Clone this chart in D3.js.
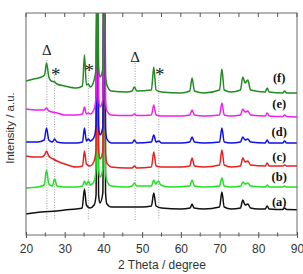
<!DOCTYPE html>
<html><head><meta charset="utf-8">
<script src="https://cdn.jsdelivr.net/npm/d3@7"></script>
<style>body{margin:0;background:#fff}svg{display:block}</style>
</head><body>
<script>
// ---- data (2θ in degrees, intensity in a.u., stacked) ----
const xTicks = [20, 30, 40, 50, 60, 70, 80, 90];
const minorTicks = [25, 35, 45, 55, 65, 75, 85];
const seriesLabels = ["(a)", "(b)", "(c)", "(d)", "(e)", "(f)"];
const labelValues = [33, 58, 78, 103, 131, 157];

const seriesA = [[20,21],[24,23],[28,24],[30,25],[33,26],[34.5,27],[35.1,46],[35.6,30],[36.5,27],[37.6,30],[38.1,40],[38.4,320],[38.75,40],[39.1,32],[39.85,42],[40.2,320],[40.55,42],[40.9,31],[42,28],[46,28],[50,28],[52.4,29],[53.0,42],[53.6,29],[55,27],[60,26],[62.4,27],[62.9,31],[63.4,27],[66,26],[70.0,28],[70.6,43],[71.2,28],[73,26],[75.4,27],[76.0,35],[76.6,30],[77.3,31],[78,27],[80,26],[81.8,26],[82.3,29],[82.8,26],[86.3,25.5],[86.8,27],[87.3,25.5],[90,25.3]];
const seriesB = [[20,47],[23,48],[24.7,50],[25.3,65],[25.9,51],[26.8,49],[27.4,56],[28,49],[30,48],[33,48],[34.6,49],[35.1,54],[35.6,50],[36.1,54],[36.6,50],[37.6,54],[38.1,66],[38.4,320],[38.75,66],[39.1,58],[39.85,66],[40.2,320],[40.55,64],[40.9,54],[42,49],[46,48],[47.4,49],[48,52],[48.6,49],[52.4,49],[53.0,55],[53.5,51],[54.2,54],[54.8,50],[57,48],[62.3,49],[62.9,55],[63.5,49],[66,48],[70.0,49],[70.6,57],[71.2,49],[73,48],[75.5,49],[76.0,53],[76.6,51],[77.3,52],[78,49],[81.8,48],[82.3,50],[82.8,48],[86.3,48],[86.8,49],[87.3,48],[90,48]];
const seriesC = [[20,79],[22,78],[24,78],[24.8,80],[25.3,84],[25.9,79],[27,76],[28,74],[30,71],[33,68],[34.6,69],[35.1,84],[35.6,71],[36.5,69],[37.6,74],[38.1,86],[38.4,320],[38.75,86],[39.1,76],[39.85,84],[40.2,320],[40.55,82],[40.9,72],[42,68],[46,67],[47.4,67],[48,69],[48.6,67],[52.4,68],[53.0,83],[53.6,69],[55,68],[60,68],[62.3,69],[62.9,77],[63.5,69],[66,68],[70.0,70],[70.6,85],[71.2,70],[73,68],[75.4,69],[76.0,77],[76.6,73],[77.3,74],[78,70],[81.8,69],[82.3,72],[82.8,69],[86.3,69],[86.8,70],[87.3,69],[90,69]];
const seriesD = [[20,93],[23,93],[24.7,95],[25.3,107],[25.9,95],[26.8,93],[27.4,96],[28,93],[30,92],[33,92],[34.6,93],[35.1,107],[35.6,94],[36.1,96],[36.6,94],[37.6,98],[38.1,110],[38.4,320],[38.75,110],[39.1,100],[39.85,108],[40.2,320],[40.55,106],[40.9,96],[42,92],[46,92],[47.4,92],[48,95],[48.6,92],[52.4,93],[53.0,100],[53.6,93],[54.3,94],[55,92],[60,92],[62.3,93],[62.9,98],[63.5,93],[66,92],[70.0,93],[70.6,107],[71.2,93],[73,92],[75.4,93],[76.0,98],[76.6,95],[77.3,96],[78,93],[81.8,92],[82.3,95],[82.8,92],[86.3,92],[86.8,94],[87.3,92],[90,92]];
const seriesE = [[20,126],[23,125],[24.7,125],[25.3,127],[25.9,124],[28,122],[30,120],[33,120],[34.6,121],[35.1,128],[35.6,121],[36.1,122],[36.6,121],[37.6,126],[38.1,138],[38.4,320],[38.75,138],[39.1,128],[39.85,136],[40.2,320],[40.55,134],[40.9,124],[42,120],[46,119.5],[47.4,119.5],[48,121],[48.6,119.5],[52.4,120],[53.0,130],[53.6,120],[55,119],[60,119],[62.3,120],[62.9,125],[63.5,120],[66,119],[70.0,120],[70.6,132],[71.2,120],[73,119],[75.4,120],[76.0,126],[76.6,123],[77.3,124],[78,120],[81.8,119],[82.3,122],[82.8,119],[86.3,118.5],[86.8,120],[87.3,118.5],[90,118]];
const seriesF = [[20,154],[22,156],[24,158],[24.8,160],[25.3,172],[25.9,158],[26.5,154],[27.4,153],[28,151],[30,149],[33,147],[34.6,149],[35.1,180],[35.6,150],[36.1,151],[36.6,148],[37.6,155],[38.1,167],[38.4,320],[38.75,168],[39.1,158],[39.85,166],[40.2,320],[40.55,160],[40.9,150],[42,144],[46,143],[47.4,144],[48,148],[48.6,144],[52.4,145],[53.0,168],[53.6,145],[55,143],[60,142],[62.3,144],[62.9,157],[63.5,144],[66,142],[70.0,145],[70.6,166],[71.2,145],[73,143],[75.4,145],[76.0,158],[76.6,152],[77.3,155],[78,145],[81.8,143],[82.3,147],[82.8,143],[86.3,142],[86.8,144],[87.3,142],[90,142]];

const seriesList = [seriesA, seriesB, seriesC, seriesD, seriesE, seriesF];
const seriesColors = ["#111111", "#22e022", "#e8201e", "#1010e0", "#f020f0", "#228b22"];

// reference marks: Δ anatase, * rutile
const markPositions = [25.4, 27.4, 36.1, 48.2, 54.3];
const markSymbols = ["Δ", "*", "*", "Δ", "*"];
const markValues = [185, 168, 172, 178, 168];
const markLineTops = [175, 163, 165, 172, 163];
const markLineBottom = 15;

// ---- layout ----
const W = 303, H = 274;
const m = {left: 26, right: 6, top: 13, bottom: 39};
const iw = W - m.left - m.right, ih = H - m.top - m.bottom;

const svg = d3.select("body").append("svg").attr("width", W).attr("height", H);
const x = d3.scaleLinear().domain([20, 90]).range([m.left, m.left + iw]);
const y = d3.scaleLinear().domain([0, 222]).range([m.top + ih, m.top]);

svg.append("defs").append("clipPath").attr("id", "clip")
  .append("rect").attr("x", m.left).attr("y", m.top).attr("width", iw).attr("height", ih);

// dotted reference lines
svg.append("g").selectAll("line").data(markPositions).join("line")
  .attr("x1", d => x(d)).attr("x2", d => x(d))
  .attr("y1", (d, i) => y(markLineTops[i])).attr("y2", y(markLineBottom))
  .attr("stroke", "#9a9a9a").attr("stroke-width", 1).attr("stroke-dasharray", "1,1.6");

const line = d3.line().x(d => x(d[0])).y(d => y(d[1])).curve(d3.curveMonotoneX);
const g = svg.append("g").attr("clip-path", "url(#clip)");
seriesList.forEach((s, i) => {
  g.append("path").attr("d", line(s)).attr("fill", "none")
    .attr("stroke", seriesColors[i]).attr("stroke-width", 1.5).attr("stroke-linejoin", "round");
});

// frame
svg.append("rect").attr("x", m.left).attr("y", m.top).attr("width", iw).attr("height", ih)
  .attr("fill", "none").attr("stroke", "#6a6a6a").attr("stroke-width", 1);

// bottom axis
const axB = svg.append("g").attr("transform", `translate(0,${m.top + ih})`)
  .call(d3.axisBottom(x).tickValues(xTicks).tickSize(3).tickPadding(6).tickFormat(d3.format("d")));
axB.select(".domain").remove();
axB.selectAll(".tick line").attr("y1", -3).attr("y2", 3).attr("stroke", "#555");
axB.selectAll("text").attr("font-family", "Arial, 'Liberation Sans', sans-serif").attr("font-size", 12).attr("fill", "#333");
svg.append("g").selectAll("line").data(minorTicks).join("line")
  .attr("x1", d => x(d)).attr("x2", d => x(d)).attr("y1", m.top + ih - 2.5).attr("y2", m.top + ih + 1.5)
  .attr("stroke", "#555");
// top ticks
svg.append("g").selectAll("line").data(xTicks.concat(minorTicks)).join("line")
  .attr("x1", d => x(d)).attr("x2", d => x(d)).attr("y1", m.top).attr("y2", m.top + 4)
  .attr("stroke", "#555");

// axis titles
svg.append("text").attr("x", 162).attr("y", 269).attr("text-anchor", "middle")
  .attr("font-family", "Arial, 'Liberation Sans', sans-serif").attr("font-size", 12).attr("fill", "#333")
  .text("2 Theta / degree");
svg.append("text").attr("transform", `translate(14,128) rotate(-90)`).attr("text-anchor", "middle")
  .attr("font-family", "Arial, 'Liberation Sans', sans-serif").attr("font-size", 11.5).attr("fill", "#333")
  .text("Intensity / a.u.");

// series labels
svg.append("g").selectAll("text").data(seriesLabels).join("text")
  .attr("x", x(85.4)).attr("y", (d, i) => y(labelValues[i])).attr("dy", "0.35em")
  .attr("text-anchor", "middle").attr("font-family", "'Liberation Serif', 'Times New Roman', serif")
  .attr("font-weight", "bold").attr("font-size", 12.5).attr("fill", "#111").text(d => d);

// Δ / * symbols
svg.append("g").selectAll("text").data(markSymbols).join("text")
  .attr("x", (d, i) => x(markPositions[i]) + (d === "*" ? 1 : 0)).attr("y", (d, i) => y(markValues[i]))
  .attr("dy", d => d === "*" ? "0.75em" : "0.35em")
  .attr("text-anchor", "middle").attr("font-family", "'Liberation Serif', 'DejaVu Serif', serif")
  .attr("font-size", d => d === "*" ? 19 : 15).attr("fill", "#222").text(d => d);
</script>
</body></html>
